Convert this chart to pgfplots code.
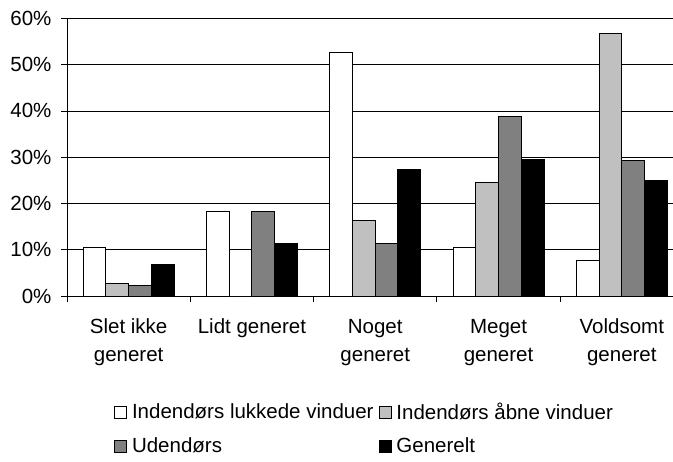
\documentclass[border=0pt]{standalone}
\usepackage{fontspec}
\setmainfont{Liberation Sans}
\usepackage{pgfplots}
\pgfplotsset{compat=1.18}
\definecolor{lgray}{RGB}{192,192,192}
\definecolor{dgray}{RGB}{128,128,128}
\newcommand\cf{\fontsize{20.5}{28}\selectfont}
\pgfplotsset{sq legend/.style={legend image code/.code={\draw[##1,line width=0.8pt] (0pt,-6pt) rectangle (12pt,6pt);}}}
\begin{document}
\cf
\begin{tikzpicture}
\begin{axis}[name=ax,
  scale only axis, width=606pt, height=277.7pt,
  xmin=-0.5, xmax=4.415, ymin=0, ymax=60, enlargelimits=false,
  axis lines*=left,
  axis line style={black, line width=0.8pt},
  ybar=0pt, bar width=22.75pt,
  xtick={0,1,2,3,4},
  xticklabels={{Slet ikke\\generet},{Lidt generet},{Noget\\generet},{Meget\\generet},{Voldsomt\\generet}},
  minor xtick={-0.5,0.5,1.5,2.5,3.5},
  major x tick style={draw=none},
  minor x tick style={draw=black, line width=0.8pt},
  tick align=outside, major tick length=5.5pt, minor tick length=5.5pt,
  ytick={0,10,20,30,40,50,60},
  yticklabels={0\%,10\%,20\%,30\%,40\%,50\%,60\%},
  ytick style={draw=black, line width=0.6pt},
  ymajorgrids=true,
  major grid style={black, line width=0.6pt},
  tick label style={font=\cf},
  x tick label style={align=center, yshift=-10.5pt},
  y tick label style={xshift=-3pt},
  legend columns=2,
  legend cell align=left,
  legend style={at={(0.0776,-0.377)}, anchor=north west, draw=none, fill=none, font=\cf,
    row sep=11pt, inner sep=0pt,
    /tikz/every odd column/.append style={column sep=3pt},
    /tikz/every even column/.append style={column sep=3pt}},
]
\addplot[fill=white, draw=black, line width=1pt, sq legend] coordinates {(0,10.5) (1,18.3) (2,52.7) (3,10.5) (4,7.6)};
\addplot[fill=lgray, draw=black, line width=1pt, sq legend] coordinates {(0,2.7) (1,0) (2,16.3) (3,24.5) (4,56.8)};
\addplot[fill=dgray, draw=black, line width=1pt, sq legend] coordinates {(0,2.2) (1,18.3) (2,11.3) (3,38.8) (4,29.3)};
\addplot[fill=black, draw=black, line width=1pt, sq legend] coordinates {(0,6.9) (1,11.4) (2,27.4) (3,29.4) (4,24.9)};
\legend{Indendørs lukkede vinduer, Indendørs åbne vinduer, Udendørs, Generelt}
\end{axis}
\pgfresetboundingbox
\path[use as bounding box] ([xshift=-67pt,yshift=-165pt]ax.south west) rectangle ([yshift=18.3pt]ax.north east);
\end{tikzpicture}
\end{document}
